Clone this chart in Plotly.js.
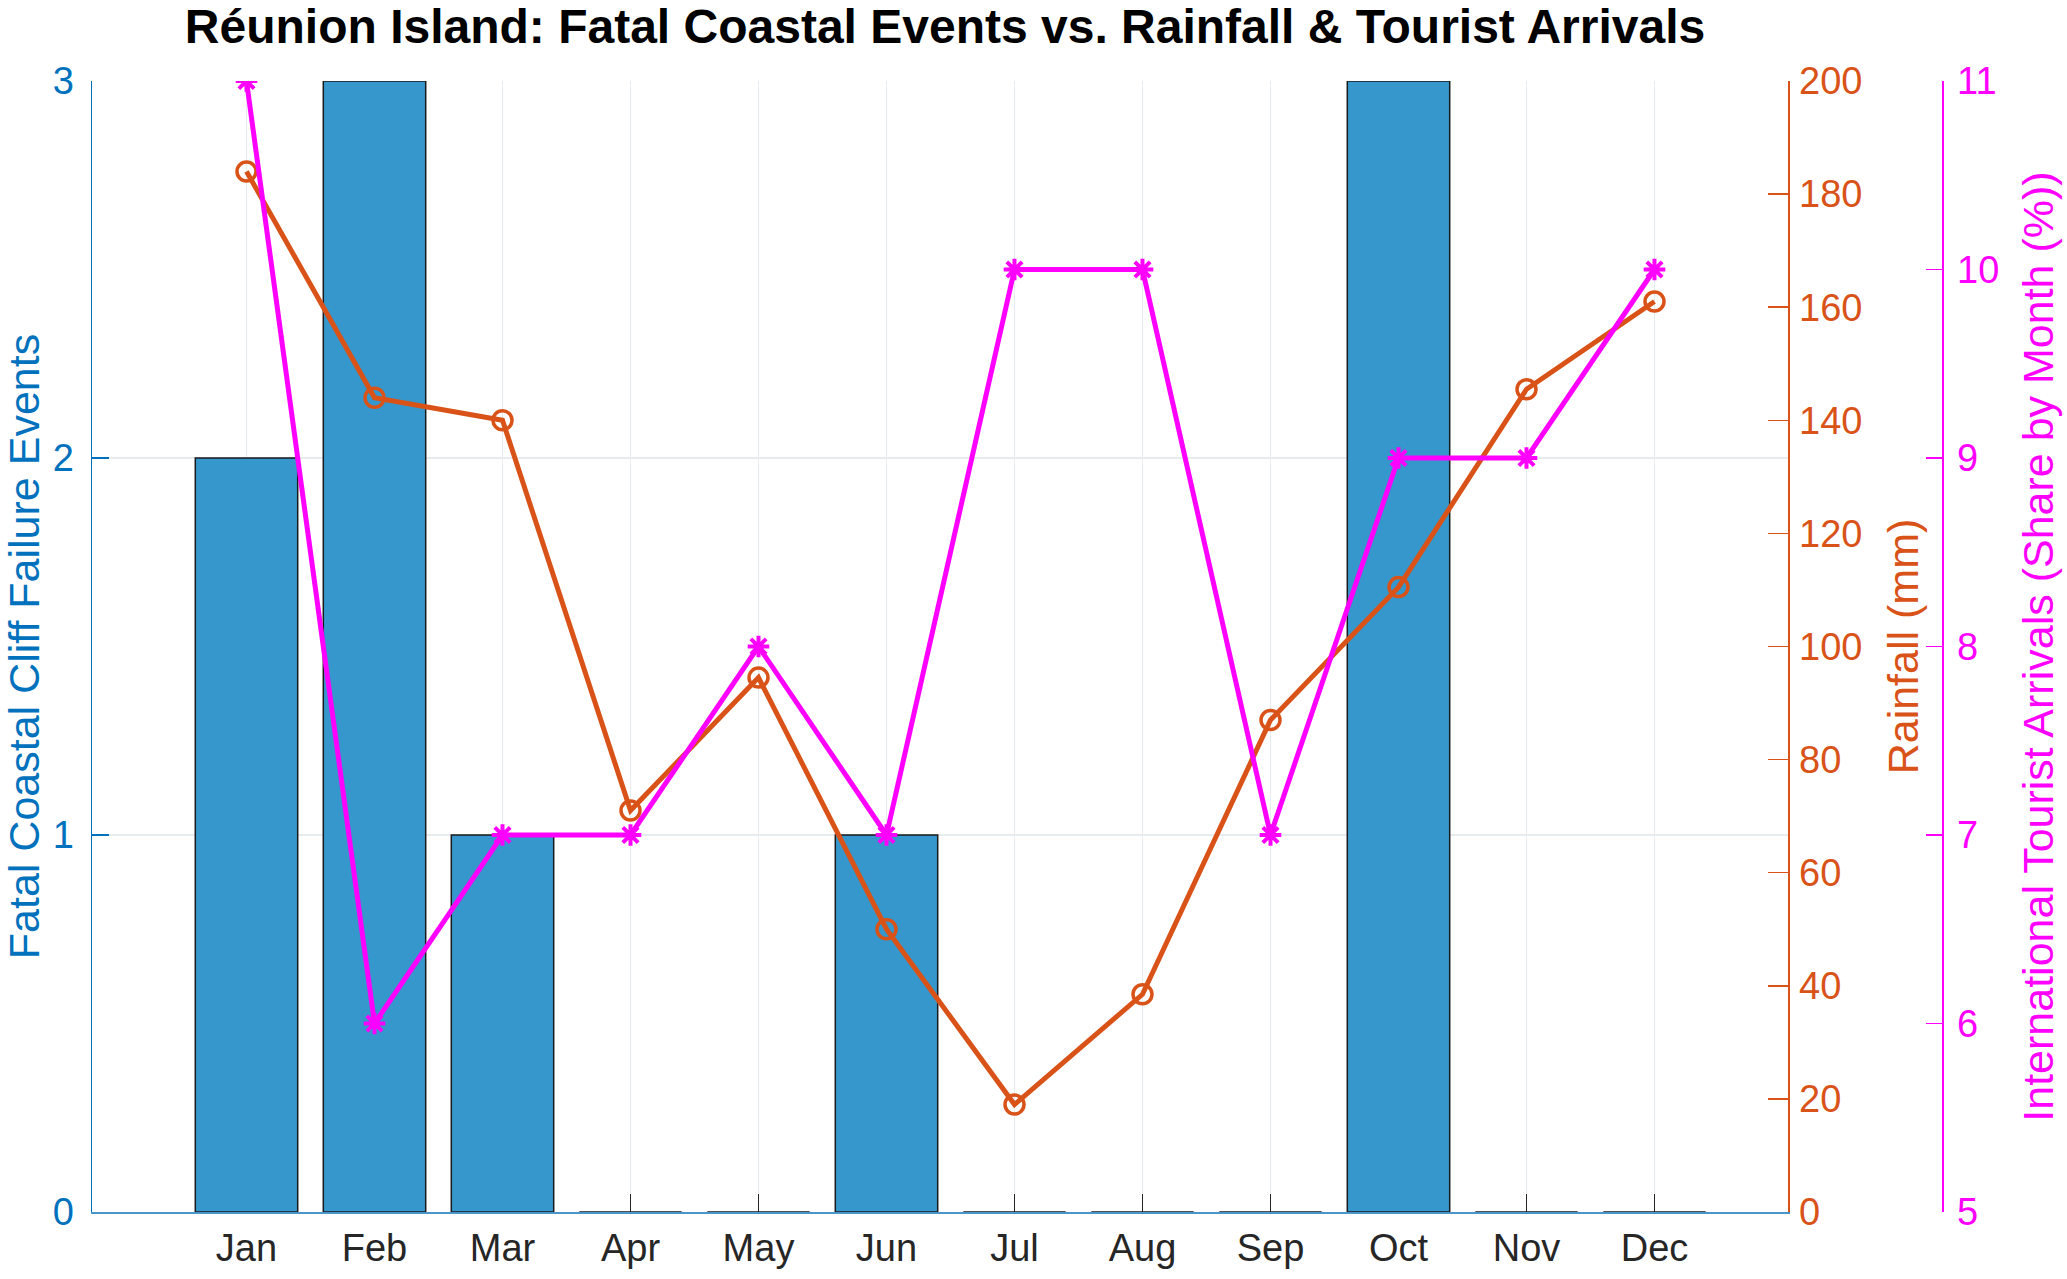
<!DOCTYPE html>
<html>
<head>
<meta charset="utf-8">
<script src="https://cdn.plot.ly/plotly-3.0.1.min.js"></script>
<style>html,body{margin:0;padding:0;background:#fff;}#chart{width:2067px;height:1279px;}</style>
</head>
<body>
<div id="chart"></div>
<script>
const months = ['Jan','Feb','Mar','Apr','May','Jun','Jul','Aug','Sep','Oct','Nov','Dec'];
const fatalEvents = [2,3,1,0,0,1,0,0,0,3,0,0];
const rainfall = [184,144,140,71,94.5,50,19,38.5,87,110.5,145.5,161];
const touristShare = [11,6,7,7,8,7,10,10,7,9,9,10];

const FONT = 'Liberation Sans, Arial, Helvetica, sans-serif';
const BLUE = '#0072BD', ORANGE = '#D95319', MAGENTA = '#FF00FF';

const traces = [
  {type:'bar', x:months, y:fatalEvents, yaxis:'y', width:0.8,
   marker:{color:'#3597CB', line:{color:'#1a1a1a', width:1.5}}, showlegend:false},
  {type:'scatter', mode:'lines+markers', x:months, y:rainfall, yaxis:'y2',
   line:{color:ORANGE, width:5},
   marker:{symbol:'circle-open', size:19, color:ORANGE, line:{color:ORANGE, width:3.5}}, showlegend:false},
  {type:'scatter', mode:'lines+markers', x:months, y:touristShare, yaxis:'y3',
   line:{color:MAGENTA, width:5},
   marker:{symbol:'asterisk-open', size:18, color:MAGENTA, line:{color:MAGENTA, width:4}}, showlegend:false}
];

const plotL = 92, plotR = 1788, axis3 = 1942, W = 2067, H = 1279;
const layout = {
  width:W, height:H,
  margin:{l:plotL, r:W-axis3, t:81, b:67},
  paper_bgcolor:'#fff', plot_bgcolor:'#fff',
  font:{family:FONT},
  title:{text:'<b>Réunion Island: Fatal Coastal Events vs. Rainfall & Tourist Arrivals</b>',
         font:{family:FONT, size:48, color:'#000'},
         x:945/W, xref:'container', xanchor:'center', y:1-26/H, yref:'container', yanchor:'middle'},
  xaxis:{domain:[0,(plotR-plotL)/(axis3-plotL)], type:'category', range:[-1.207,12.043],
         showgrid:true, gridcolor:'#E6ECF0', gridwidth:1.5,
         ticks:'inside', ticklen:18, tickwidth:1.5, tickcolor:'#262626',
         tickfont:{family:FONT, size:38, color:'#262626'}, ticklabelstandoff:2,
         showline:true, linecolor:'#4A95C8', linewidth:1.5, zeroline:false, layer:'below traces'},
  yaxis:{range:[0,3], dtick:1, tick0:0, showgrid:true, gridcolor:'#E6ECF0', gridwidth:1.5,
         ticks:'inside', ticklen:17, tickwidth:1.5, tickcolor:BLUE,
         tickfont:{family:FONT, size:38, color:BLUE}, ticklabelstandoff:9,
         showline:true, linecolor:BLUE, linewidth:1.5, zeroline:false,
         title:{text:'Fatal Coastal Cliff Failure Events', font:{family:FONT, size:43, color:BLUE}, standoff:6}},
  yaxis2:{range:[0,200], dtick:20, tick0:0, overlaying:'y', side:'right', anchor:'x',
          showgrid:false, zeroline:false,
          ticks:'inside', ticklen:20, tickwidth:1.5, tickcolor:ORANGE,
          tickfont:{family:FONT, size:38, color:ORANGE}, ticklabelstandoff:2,
          showline:true, linecolor:ORANGE, linewidth:1.5,
          title:{text:'Rainfall (mm)', font:{family:FONT, size:43, color:ORANGE}, standoff:26}},
  yaxis3:{range:[5,11], dtick:1, tick0:5, overlaying:'y', side:'right', anchor:'free', position:1,
          showgrid:false, zeroline:false,
          ticks:'inside', ticklen:16, tickwidth:1.5, tickcolor:MAGENTA,
          tickfont:{family:FONT, size:38, color:MAGENTA}, ticklabelstandoff:6,
          showline:true, linecolor:MAGENTA, linewidth:1.5,
          title:{text:'International Tourist Arrivals (Share by Month (%))', font:{family:FONT, size:43, color:MAGENTA}, standoff:24}},
  bargap:0.2
};

Plotly.newPlot('chart', traces, layout, {displayModeBar:false, staticPlot:true});
</script>
</body>
</html>
